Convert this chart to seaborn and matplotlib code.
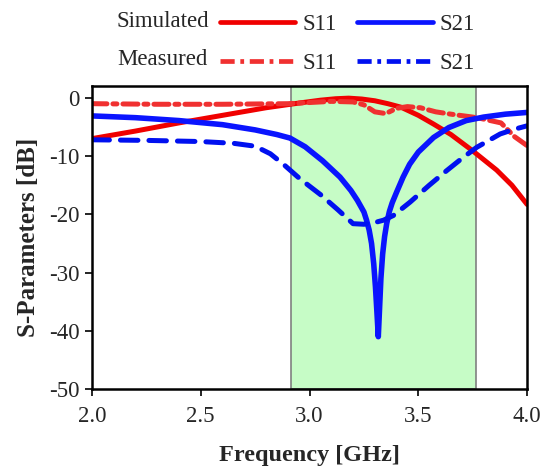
import matplotlib
matplotlib.use("Agg")
import matplotlib.pyplot as plt
from matplotlib.lines import Line2D
import seaborn as sns

# values
sim_s11_f = [2.0, 2.2, 2.4, 2.6, 2.8, 2.95, 3.05, 3.12, 3.18, 3.24, 3.3, 3.36, 3.42, 3.5, 3.57, 3.65,
             3.75, 3.86, 3.93, 4.0]
sim_s11_db = [-7.0, -5.7, -4.3, -3.0, -1.7, -0.9, -0.4, -0.15, -0.05, -0.2, -0.5, -1.0, -1.6, -3.0,
              -4.5, -6.3, -9.1, -12.4, -15.0, -18.3]

meas_s11_f = [2.0, 2.3, 2.6, 2.9, 3.0, 3.1, 3.2, 3.25, 3.3, 3.35, 3.4, 3.45, 3.51, 3.58, 3.65, 3.77,
              3.88, 3.94, 4.0]
meas_s11_db = [-1.0, -1.1, -1.1, -1.0, -0.8, -0.6, -0.7, -1.2, -2.4, -2.7, -1.8, -1.5, -1.7, -2.4,
               -2.8, -3.4, -4.3, -6.6, -8.2]

sim_s21_f = [2.0, 2.2, 2.4, 2.6, 2.75, 2.85, 2.91, 2.98, 3.06, 3.14, 3.19, 3.22, 3.25, 3.262, 3.274,
             3.285, 3.295, 3.303, 3.31, 3.316, 3.322, 3.328, 3.336, 3.345, 3.355, 3.367, 3.38, 3.40,
             3.43, 3.46, 3.5, 3.57, 3.64, 3.72, 3.8, 3.9, 4.0]
sim_s21_db = [-3.1, -3.4, -3.9, -4.6, -5.5, -6.3, -6.9, -8.4, -10.8, -13.6, -15.9, -17.6, -19.6, -21.0,
              -22.7, -25.0, -28.5, -32.5, -37.0, -41.0, -36.0, -31.0, -26.8, -23.8, -21.5, -19.5,
              -18.0, -16.2, -13.6, -11.4, -9.3, -6.8, -5.1, -3.9, -3.3, -2.8, -2.5]

meas_s21_f = [2.0, 2.25, 2.5, 2.65, 2.75, 2.82, 2.88, 2.956, 3.05, 3.13, 3.2, 3.25, 3.3, 3.34, 3.385,
              3.462, 3.55, 3.63, 3.7, 3.768, 3.876, 3.94, 4.0]
meas_s21_db = [-7.2, -7.3, -7.5, -7.8, -8.3, -9.6, -11.4, -13.9, -16.6, -19.2, -21.6, -21.7, -21.4,
               -21.0, -20.2, -17.9, -15.0, -12.5, -10.4, -8.5, -6.2, -5.4, -4.8]

band = (2.915, 3.766)
x_ticks = [2.0, 2.5, 3.0, 3.5, 4.0]
y_ticks = [0, -10, -20, -30, -40, -50]

sns.set_style("white")
plt.rcParams['font.family'] = ['Liberation Serif', 'DejaVu Serif']
plt.rcParams['axes.unicode_minus'] = False

fig = plt.figure(figsize=(5.44, 4.66), dpi=100)
ax = fig.add_axes([0.169, 0.165, 0.8, 0.65])

ax.axvspan(band[0], band[1], facecolor='#c6fcc6', edgecolor='#808080', linewidth=1.2, zorder=0)

red = '#f00000'
red_m = '#f03030'
blue = '#0a14ff'
blue_m = '#0010f0'
dashdot = (0, (3, 1.2, 0.8, 1.2))

sns.lineplot(x=sim_s11_f, y=sim_s11_db, ax=ax, color=red, linewidth=3.6, solid_capstyle='round')
sns.lineplot(x=meas_s11_f, y=meas_s11_db, ax=ax, color=red_m, linewidth=3.6,
             linestyle=dashdot, dash_capstyle='round')
sns.lineplot(x=sim_s21_f, y=sim_s21_db, ax=ax, color=blue, linewidth=4.0, solid_capstyle='round',
             solid_joinstyle='round')
sns.lineplot(x=meas_s21_f, y=meas_s21_db, ax=ax, color=blue_m, linewidth=3.6,
             linestyle=(0, (3.5, 2.2)), dash_capstyle='round')

ax.set_xlim(2.0, 4.0)
ax.set_ylim(-50, 2)
ax.set_xticks(x_ticks)
ax.set_xticklabels([f"{v:.1f}" for v in x_ticks])
ax.set_yticks(y_ticks)
ax.set_yticklabels([str(v) for v in y_ticks])
ax.tick_params(axis='both', direction='out', length=5, width=1.2, labelsize=16.5, color='black',
               bottom=True, left=True)
ax.tick_params(axis='x', pad=7)
ax.tick_params(axis='y', pad=4)
for s in ax.spines.values():
    s.set_linewidth(1.8)
    s.set_color('black')

ax.set_xlabel('Frequency [GHz]', fontsize=17.5, fontweight='bold', labelpad=13)
ax.set_ylabel('S-Parameters [dB]', fontsize=18, fontweight='bold', labelpad=6)

# legend in two rows, with the row names as plain text
handles = [Line2D([], [], color=red, linewidth=3.4),
           Line2D([], [], color=red_m, linewidth=3.4, linestyle=dashdot),
           Line2D([], [], color=blue, linewidth=3.4),
           Line2D([], [], color=blue_m, linewidth=3.4, linestyle=dashdot)]
labels = ['S11', 'S11', 'S21', 'S21']
fig.legend(handles, labels, ncol=2, loc='upper left', bbox_to_anchor=(0.404, 0.97),
           frameon=False, fontsize=16.5, handlelength=3.3, handletextpad=0.3,
           columnspacing=0.9, labelspacing=0.8, borderpad=0, borderaxespad=0)
fig.text(0.215, 0.953, 'Simulated', fontsize=16.5, va='center', ha='left')
fig.text(0.215, 0.873, 'Measured', fontsize=16.5, va='center', ha='left')

fig.savefig('out.png', dpi=100)
